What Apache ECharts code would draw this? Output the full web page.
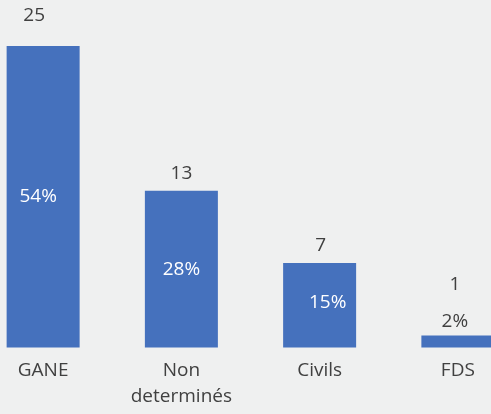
<!DOCTYPE html>
<html>
<head>
<meta charset="utf-8">
<script src="https://cdn.jsdelivr.net/npm/echarts@6/dist/echarts.min.js"></script>
<style>
html,body{margin:0;padding:0;background:#eff0f0;overflow:hidden;width:491px;height:414px;}
#c{position:absolute;left:-26.5px;top:0;width:553px;height:414px;}
</style>
</head>
<body>
<div id="c"></div>
<script>
const categories = ['GANE', 'Non\ndeterminés', 'Civils', 'FDS'];
const counts = [25, 13, 7, 1];
const percents = ['54%', '28%', '15%', '2%'];

const FONT = '"Open Sans", "Noto Sans", sans-serif';
const DARK = '#404040';
const BLUE = '#4571bd';

// per-item label tweaks (style only)
const valueLabelTweaks = [
  {distance: 21, offset: [-9, 0]},
  {distance: 8, offset: [0, 0]},
  {distance: 8, offset: [1, 0]},
  {distance: 41, offset: [-3, 0]}
];
const pctLabelTweaks = [
  {position: 'inside', offset: [-5, 0], color: '#ffffff'},
  {position: 'inside', offset: [0, 0], color: '#ffffff'},
  {position: 'inside', offset: [8, -3], color: '#ffffff'},
  {position: 'top', distance: 4, offset: [-3, 0], color: DARK}
];

const barData = counts.map((v, i) => ({
  value: v,
  label: Object.assign({}, pctLabelTweaks[i], {formatter: percents[i]})
}));
const valueData = counts.map((v, i) => ({
  value: v,
  label: Object.assign({}, valueLabelTweaks[i])
}));

const chart = echarts.init(document.getElementById('c'), null, {renderer: 'canvas'});
chart.setOption({
  backgroundColor: '#eff0f0',
  animation: false,
  grid: {left: 0, right: 0, top: 46, bottom: 66.5, containLabel: false},
  xAxis: {
    type: 'category',
    data: categories,
    axisLine: {show: false},
    axisTick: {show: false},
    axisLabel: {
      color: DARK, fontFamily: FONT, fontSize: 19, lineHeight: 26, margin: 10,
      interval: 0
    }
  },
  yAxis: {
    type: 'value', min: 0, max: 25, show: false,
    splitLine: {show: false}
  },
  series: [
    {
      type: 'bar',
      barWidth: 73,
      data: barData,
      itemStyle: {color: BLUE},
      label: {show: true, fontFamily: FONT, fontSize: 19}
    },
    {
      type: 'bar',
      barWidth: 73,
      barGap: '-100%',
      data: valueData,
      itemStyle: {color: 'rgba(0,0,0,0)'},
      label: {show: true, position: 'top', color: DARK, fontFamily: FONT, fontSize: 19},
      z: 3
    }
  ]
});
</script>
</body>
</html>
